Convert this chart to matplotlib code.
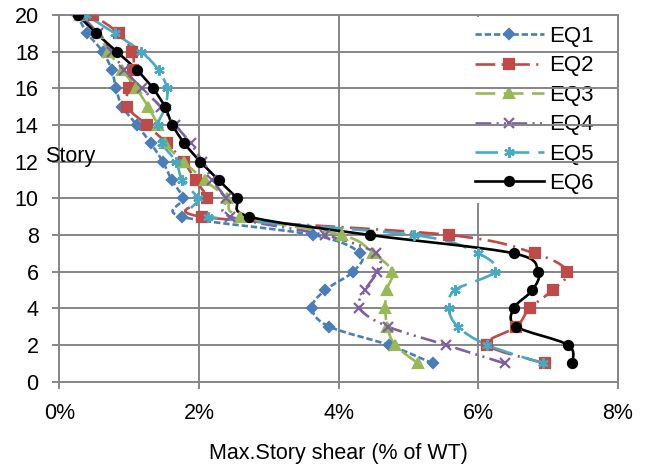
import matplotlib
matplotlib.use("Agg")
import matplotlib.pyplot as plt
import numpy as np
from matplotlib.path import Path
from matplotlib.patches import PathPatch
from matplotlib.lines import Line2D
from matplotlib.ticker import StrMethodFormatter

plt.rcParams['font.family'] = ['Liberation Sans', 'DejaVu Sans']

# story levels, bottom to top
stories = list(range(1, 21))

# max story shear, % of total weight, story 1 .. 20
eq1 = [5.35, 4.72, 3.87, 3.62, 3.81, 4.21, 4.31, 3.64, 1.75, 1.77,
       1.61, 1.48, 1.31, 1.11, 0.90, 0.81, 0.75, 0.62, 0.40, 0.25]
eq2 = [6.96, 6.13, 6.55, 6.74, 7.07, 7.28, 6.81, 5.59, 2.04, 2.11,
       1.95, 1.78, 1.54, 1.25, 0.97, 0.99, 1.06, 1.04, 0.85, 0.48]
eq3 = [5.14, 4.81, 4.70, 4.67, 4.69, 4.77, 4.50, 4.05, 2.59, 2.40,
       2.08, 1.78, 1.51, 1.41, 1.27, 1.10, 0.90, 0.70, 0.55, 0.30]
eq4 = [6.38, 5.54, 4.71, 4.30, 4.38, 4.55, 4.54, 3.80, 2.45, 2.38,
       2.19, 2.05, 1.88, 1.66, 1.45, 1.18, 0.93, 0.75, 0.55, 0.30]
eq5 = [6.93, 6.13, 5.71, 5.58, 5.67, 6.24, 6.00, 5.08, 2.13, 1.99,
       1.76, 1.67, 1.47, 1.41, 1.52, 1.54, 1.42, 1.17, 0.79, 0.38]
eq6 = [7.35, 7.29, 6.55, 6.51, 6.78, 6.86, 6.51, 4.45, 2.72, 2.54,
       2.28, 2.02, 1.79, 1.62, 1.51, 1.34, 1.11, 0.82, 0.53, 0.26]

names = ['EQ1', 'EQ2', 'EQ3', 'EQ4', 'EQ5', 'EQ6']
series = [eq1, eq2, eq3, eq4, eq5, eq6]
colors = ['#4A7EBB', '#BE4B48', '#98B954', '#7D60A0', '#46AAC5', '#000000']
styles = [(0, (2.4, 1.1)),
          (0, (7.5, 2.4, 0.8, 2.4)),
          (0, (7.5, 3.2)),
          (0, (6, 2, 0.8, 2, 0.8, 2)),
          (0, (8.5, 3.4)),
          '-']
markers = ['D', 's', '^', 'x', (6, 2, 0), 'o']
msizes = [5.5, 6.5, 7, 6.5, 7.5, 6.5]
lw = 1.9

grid_c = '#868686'


def smooth_path(ax, xs, ys):
    # Catmull-Rom style bezier through the points, built in display space
    pts = ax.transData.transform(np.column_stack([xs, ys]))
    n = len(pts)
    verts = [pts[0]]
    codes = [Path.MOVETO]
    for i in range(n - 1):
        p0 = pts[i - 1] if i > 0 else pts[i]
        p1 = pts[i]
        p2 = pts[i + 1]
        p3 = pts[i + 2] if i + 2 < n else pts[i + 1]
        verts += [p1 + (p2 - p0) / 6.0, p2 - (p3 - p1) / 6.0, p2]
        codes += [Path.CURVE4] * 3
    verts = ax.transData.inverted().transform(np.array(verts))
    return Path(verts, codes)


fig = plt.figure(figsize=(6.45, 4.67), dpi=100)
ax = fig.add_axes([0.0922, 0.1827, 0.9575 - 0.0922, 0.9679 - 0.1827])
ax.set_xlim(0, 8)
ax.set_ylim(0, 20)
ax.set_xticks([0, 2, 4, 6, 8])
ax.set_yticks(range(0, 21, 2))
ax.xaxis.set_major_formatter(StrMethodFormatter('{x:.0f}%'))

ax.grid(True, color=grid_c, linewidth=1.4)
ax.set_axisbelow(True)
ax.yaxis.set_zorder(1.5)
for sp in ax.spines.values():
    sp.set_color(grid_c)
    sp.set_linewidth(1.4)
ax.tick_params(axis='both', colors=grid_c, labelcolor='black', labelsize=15.5,
               length=5, width=1.4, pad=10)

handles = []
for name, vals, c, ls, mk, ms in zip(names, series, colors, styles, markers, msizes):
    patch = PathPatch(smooth_path(ax, vals, stories), facecolor='none',
                      edgecolor=c, linewidth=lw, linestyle=ls, zorder=2)
    ax.add_patch(patch)
    ax.plot(vals, stories, linestyle='none', marker=mk, markersize=ms,
            color=c, markeredgewidth=1.6, zorder=3)
    handles.append(Line2D([], [], color=c, linestyle=ls, linewidth=lw,
                          marker=mk, markersize=ms, markeredgewidth=1.6))

leg = ax.legend(handles, names, loc='upper left',
                bbox_to_anchor=(455 / 645, 1 - 6 / 467),
                bbox_transform=fig.transFigure, fontsize=16,
                frameon=True, facecolor='white', edgecolor='none',
                framealpha=1, fancybox=False, borderpad=0.4,
                handlelength=3.1, handletextpad=0.25, labelspacing=0.38)
leg.set_zorder(1)

fig.text(45 / 645, 1 - 162 / 467, 'Story', fontsize=15.5, va='baseline', ha='left')
ax.set_xlabel('Max.Story shear (% of WT)', fontsize=15.5, labelpad=14)

fig.savefig('out.png', dpi=100)
